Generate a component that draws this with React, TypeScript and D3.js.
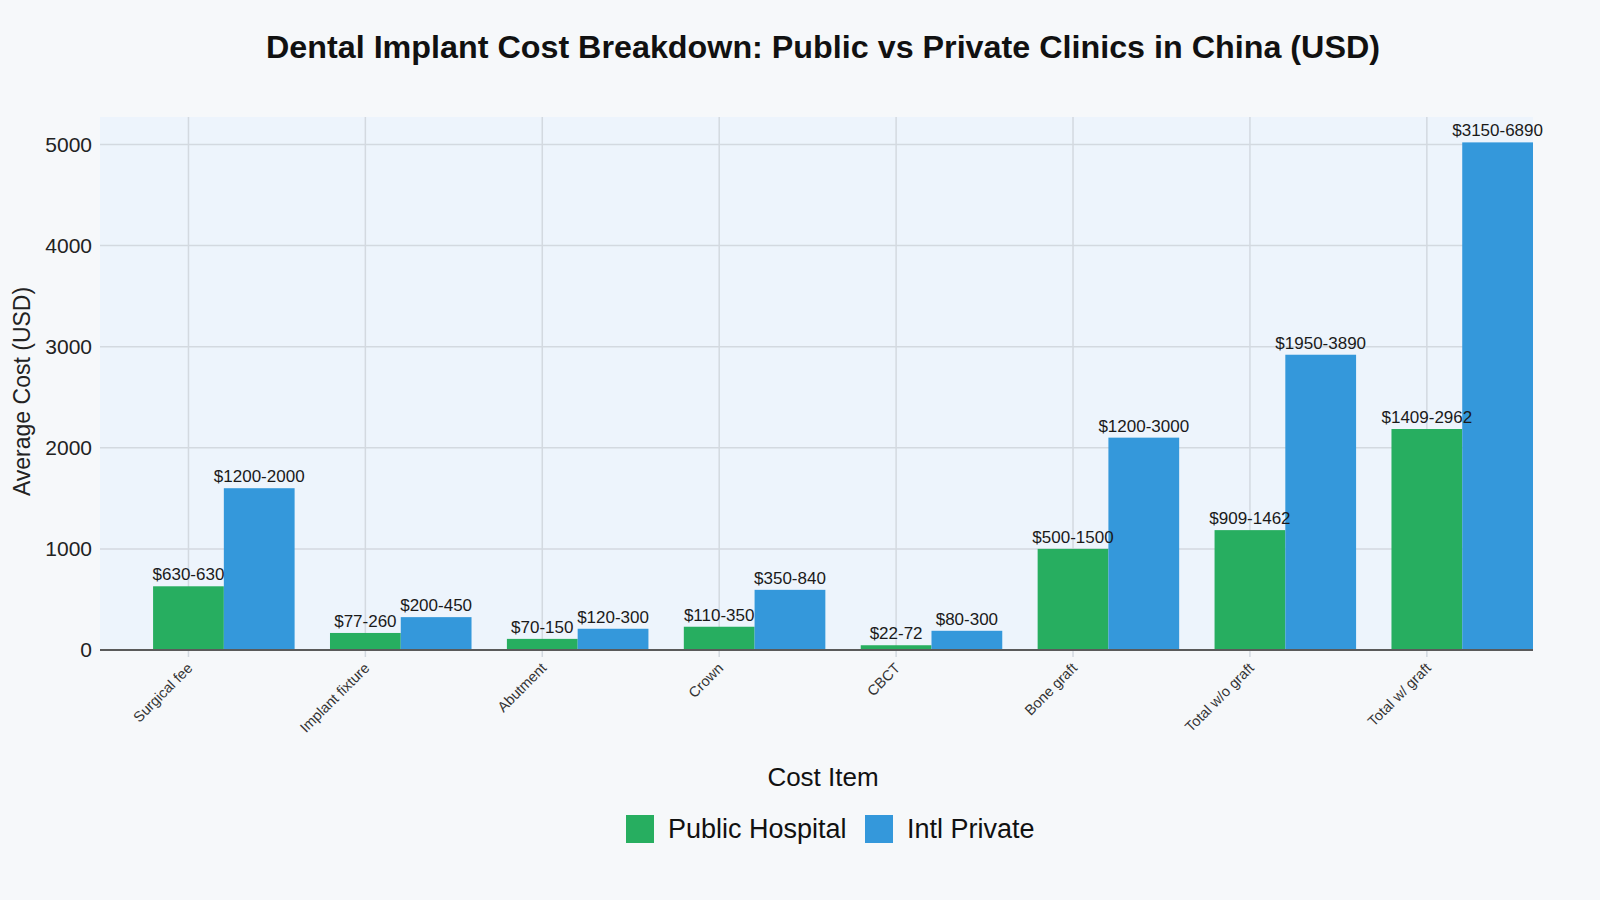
import React from "react";
import * as d3 from "d3";

// Cost items and price ranges (USD) for each clinic type
const categories = [
  "Surgical fee",
  "Implant fixture",
  "Abutment",
  "Crown",
  "CBCT",
  "Bone graft",
  "Total w/o graft",
  "Total w/ graft",
];
const publicLow = [630, 77, 70, 110, 22, 500, 909, 1409];
const publicHigh = [630, 260, 150, 350, 72, 1500, 1462, 2962];
const privateLow = [1200, 200, 120, 350, 80, 1200, 1950, 3150];
const privateHigh = [2000, 450, 300, 840, 300, 3000, 3890, 6890];
const yTicks = [0, 1000, 2000, 3000, 4000, 5000];
const seriesNames = ["Public Hospital", "Intl Private"];
const seriesColors = ["#27ae60", "#3498db"];

const W = 1600;
const H = 900;
const plot = { left: 100, right: 1533, top: 117, bottom: 650 };
const FONT = "'Liberation Sans', Arial, Helvetica, sans-serif";
const BAR_W = 0.4;

const mid = (lo: number[], hi: number[]) => lo.map((l, i) => (l + hi[i]) / 2);

export default function App() {
  const publicAvg = mid(publicLow, publicHigh);
  const privateAvg = mid(privateLow, privateHigh);
  const yMax = (d3.max([...publicAvg, ...privateAvg]) as number) * 1.05;

  const x = d3
    .scaleLinear()
    .domain([-0.5, categories.length - 1 + BAR_W + 0.2])
    .range([plot.left, plot.right]);
  const y = d3.scaleLinear().domain([0, yMax]).range([plot.bottom, plot.top]);

  const series = [
    { avg: publicAvg, lo: publicLow, hi: publicHigh, offset: 0 },
    { avg: privateAvg, lo: privateLow, hi: privateHigh, offset: BAR_W },
  ];

  return (
    <>
      <style>{`body{margin:0;background:#f6f8fa;}`}</style>
      <svg width={W} height={H} style={{ display: "block", fontFamily: FONT }}>
        <rect x={0} y={0} width={W} height={H} fill="#f6f8fa" />
        <text
          x={823}
          y={58}
          textAnchor="middle"
          fontSize={32}
          fontWeight="bold"
          fill="#111"
          textLength={1114}
          lengthAdjust="spacingAndGlyphs"
        >
          Dental Implant Cost Breakdown: Public vs Private Clinics in China (USD)
        </text>

        {/* plotting area */}
        <rect
          x={plot.left}
          y={plot.top}
          width={plot.right - plot.left}
          height={plot.bottom - plot.top}
          fill="#edf4fc"
        />

        {/* grid */}
        {yTicks
          .filter((t) => t > 0)
          .map((t) => (
            <line
              key={"gy" + t}
              x1={plot.left}
              x2={plot.right}
              y1={y(t)}
              y2={y(t)}
              stroke="#d3d9e0"
              strokeWidth={1.5}
            />
          ))}
        {categories.map((c, i) => (
          <line
            key={"gx" + c}
            x1={x(i)}
            x2={x(i)}
            y1={plot.top}
            y2={plot.bottom + 7}
            stroke="#d3d9e0"
            strokeWidth={1.5}
          />
        ))}

        {/* bars */}
        {series.map((s, si) =>
          s.avg.map((v, i) => (
            <rect
              key={`b${si}-${i}`}
              x={x(i + s.offset - BAR_W / 2)}
              y={y(v)}
              width={x(i + s.offset + BAR_W / 2) - x(i + s.offset - BAR_W / 2)}
              height={y(0) - y(v)}
              fill={seriesColors[si]}
            />
          ))
        )}

        {/* value labels */}
        {series.map((s, si) =>
          s.avg.map((v, i) => (
            <text
              key={`l${si}-${i}`}
              x={x(i + s.offset)}
              y={y(v) - 6}
              textAnchor="middle"
              fontSize={17}
              fill="#1a1a1a"
            >
              {`$${s.lo[i]}-${s.hi[i]}`}
            </text>
          ))
        )}

        {/* x axis line */}
        <line
          x1={plot.left}
          x2={plot.right}
          y1={y(0)}
          y2={y(0)}
          stroke="#5a5a5a"
          strokeWidth={2}
        />

        {/* y tick labels */}
        {yTicks.map((t) => (
          <text
            key={"ty" + t}
            x={plot.left - 8}
            y={y(t)}
            dy="0.35em"
            textAnchor="end"
            fontSize={21}
            fill="#222"
          >
            {t}
          </text>
        ))}

        {/* x tick labels */}
        {categories.map((c, i) => (
          <text
            key={"tx" + c}
            transform={`translate(${x(i) + 5},${plot.bottom + 19}) rotate(-45)`}
            textAnchor="end"
            fontSize={14.5}
            fill="#333"
          >
            {c}
          </text>
        ))}

        {/* axis titles */}
        <text
          transform={`translate(30,${(plot.top + plot.bottom) / 2 + 8}) rotate(-90)`}
          textAnchor="middle"
          fontSize={23}
          fill="#222"
        >
          Average Cost (USD)
        </text>
        <text x={823} y={786} textAnchor="middle" fontSize={26} fill="#111">
          Cost Item
        </text>

        {/* legend */}
        <g transform="translate(626,815)">
          {seriesNames.map((n, i) => {
            const ox = i === 0 ? 0 : 239;
            return (
              <g key={n} transform={`translate(${ox},0)`}>
                <rect width={28} height={28} fill={seriesColors[i]} />
                <text x={42} y={14} dy="0.35em" fontSize={27} fill="#111">
                  {n}
                </text>
              </g>
            );
          })}
        </g>
      </svg>
    </>
  );
}
